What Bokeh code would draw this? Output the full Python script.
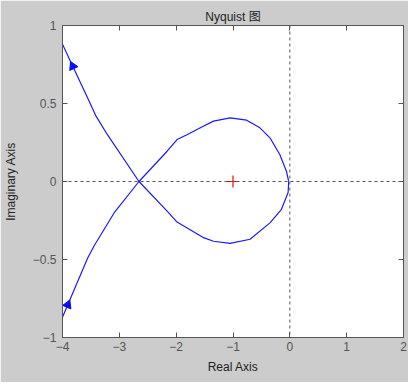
from bokeh.plotting import figure
from bokeh.models import Span, LinearAxis, FixedTicker, Range1d
from bokeh.embed import file_html
from bokeh.resources import INLINE

# Nyquist curve, positive-frequency branch (from lower-left to origin via upper loop)
re_pos = [-4.0, -3.907, -3.557, -3.44, -3.09, -2.654, -2.159, -1.984, -1.81, -1.575,
          -1.343, -1.05, -0.76, -0.526, -0.35, -0.177, -0.06, -0.02]
im_pos = [-0.87, -0.79, -0.49, -0.41, -0.20, 0.0, 0.194, 0.269, 0.30, 0.344,
          0.387, 0.408, 0.393, 0.344, 0.28, 0.173, 0.066, 0.0]
# negative-frequency branch (from origin via lower loop to upper-left)
re_neg = [-0.02, -0.03, -0.15, -0.35, -0.70, -1.05, -1.343, -1.517, -1.984, -2.159,
          -2.654, -3.21, -3.41, -3.557, -3.82, -4.0]
im_neg = [0.0, -0.07, -0.18, -0.265, -0.37, -0.397, -0.383, -0.36, -0.26, -0.19,
          0.0, 0.30, 0.419, 0.536, 0.739, 0.88]
# direction arrows
arrow_re = [-3.82, -3.907]
arrow_im = [0.739, -0.79]
arrow_angle = [0.44, -0.40]
# critical point
crit_re = [-1.0]
crit_im = [0.0]

x_ticks = [-4, -3, -2, -1, 0, 1, 2]
y_ticks = [-1, -0.5, 0, 0.5, 1]

FONT = "Liberation Sans"
BG = "#cccccc"
TXT = "#222222"
AXC = "#555555"

p = figure(width=408, height=382, output_backend="svg", toolbar_location=None,
           x_range=Range1d(-4, 2), y_range=Range1d(-1, 1),
           min_border_left=60, min_border_right=5, min_border_top=25, min_border_bottom=45,
           title="Nyquist 图")
p.border_fill_color = BG
p.background_fill_color = "white"
p.outline_line_color = AXC
p.grid.visible = False

p.title.align = "center"
p.title.text_font = "Liberation Sans, Noto Sans CJK SC"
p.title.text_font_size = "12px"
p.title.text_font_style = "normal"
p.title.text_color = TXT
p.title.standoff = 4

for ax in (p.xaxis[0], p.yaxis[0]):
    ax.major_tick_in = 5
    ax.major_tick_out = 0
    ax.minor_tick_line_color = None
    ax.axis_line_color = AXC
    ax.major_tick_line_color = AXC
    ax.major_label_text_font = FONT
    ax.major_label_text_font_size = "12px"
    ax.major_label_text_color = "#555555"
    ax.axis_label_text_font = FONT
    ax.axis_label_text_font_size = "12px"
    ax.axis_label_text_font_style = "normal"
    ax.axis_label_text_color = TXT

p.xaxis.ticker = FixedTicker(ticks=x_ticks)
p.yaxis.ticker = FixedTicker(ticks=y_ticks)
p.xaxis.axis_label = "Real Axis"
p.yaxis.axis_label = "Imaginary Axis"
p.xaxis.major_label_standoff = 4
p.yaxis.major_label_standoff = 6
p.xaxis.axis_label_standoff = 6
p.yaxis.axis_label_standoff = 12
p.yaxis.major_label_orientation = "horizontal"

for loc, tk in (("above", x_ticks), ("right", y_ticks)):
    a = LinearAxis(ticker=FixedTicker(ticks=tk), major_tick_in=5, major_tick_out=0,
                   minor_tick_line_color=None, major_label_text_color=None,
                   major_label_text_font_size="1px",
                   major_label_standoff=0, axis_line_color=AXC,
                   major_tick_line_color=AXC)
    p.add_layout(a, loc)

for dim in ("height", "width"):
    p.add_layout(Span(location=0, dimension=dim, line_color="#555555",
                      line_dash="3 3", line_width=1))

p.line(re_pos, im_pos, line_color="#1a1aff", line_width=1.2)
p.line(re_neg, im_neg, line_color="#1a1aff", line_width=1.2)
p.scatter(arrow_re, arrow_im, marker="triangle", size=9, angle=arrow_angle,
          fill_color="#0a0aff", line_color="#0a0aff")
p.scatter(crit_re, crit_im, marker="cross", size=12, line_color="red", line_width=1.2)

open("out.html", "w").write(file_html(p, INLINE))
